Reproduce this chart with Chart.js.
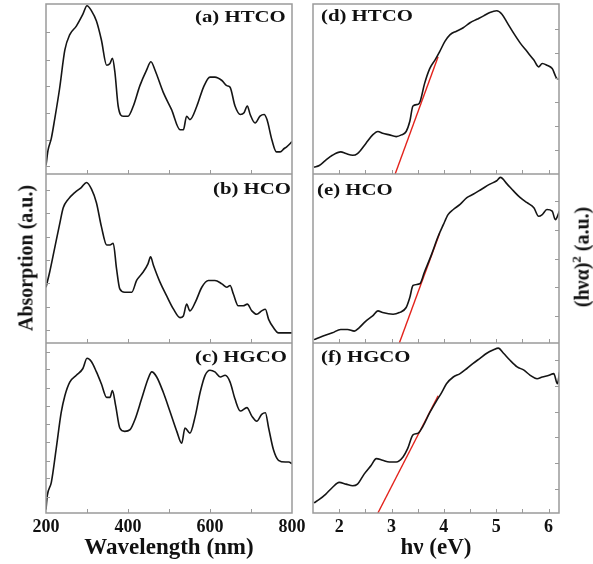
<!DOCTYPE html>
<html>
<head>
<meta charset="utf-8">
<script src="https://cdn.jsdelivr.net/npm/chart.js@4.4.1/dist/chart.umd.min.js"></script>
<style>
    body { margin: 0; background: #fff; }
    #wrap { position: relative; width: 593px; height: 564px; overflow: hidden; background: #fff; }
    canvas { position: absolute; }
    .lbl { position: absolute; font: bold 16px "Liberation Serif", serif; line-height: 16px; color: #111;
           white-space: nowrap; transform: scaleX(1.3); transform-origin: left center; }
    .ytitle { position: absolute; font: bold 20px "Liberation Serif", serif; color: #111; white-space: nowrap;
              transform: translate(-50%, -50%) rotate(-90deg); }
    .ytitle sup { font-size: 13px; }
</style>
</head>
<body>
<div id="wrap">
    <canvas id="pa" width="310" height="174" style="left:0;top:0"></canvas>
    <canvas id="pb" width="310" height="169" style="left:0;top:174px"></canvas>
    <canvas id="pc" width="310" height="221" style="left:0;top:343px"></canvas>
    <canvas id="pd" width="293" height="174" style="left:300px;top:0"></canvas>
    <canvas id="pe" width="293" height="169" style="left:300px;top:174px"></canvas>
    <canvas id="pf" width="293" height="221" style="left:300px;top:343px"></canvas>

    <div class="lbl" style="left:195px;top:9px">(a) HTCO</div>
    <div class="lbl" style="left:213px;top:181px">(b) HCO</div>
    <div class="lbl" style="left:195px;top:349px">(c) HGCO</div>
    <div class="lbl" style="left:321px;top:8px">(d) HTCO</div>
    <div class="lbl" style="left:317px;top:182px">(e) HCO</div>
    <div class="lbl" style="left:321px;top:349px">(f) HGCO</div>

    <div class="ytitle" style="left:26px;top:258px">Absorption (a.u.)</div>
    <div class="ytitle" style="left:581px;top:257px">(hνα)<sup>2</sup> (a.u.)</div>
</div>

<script>
// wavelength panels (a)-(c), absorption in a.u. (0-100 per panel)
const wlA = [200,205,213,221,233,246,258,274,290,300,311,323,335,348,356,362,368,376,388,400,413,429,445,456,466,486,506,527,535,543,551,568,584,600,612,629,641,649,661,674,683,691,698,710,722,732,739,751,762,771,781,787,800];
const absA = [5,14,21,32,50,73,82,87,94,99,96,90,79,64,65,68,60,40,34,34,40,52,61,66,61,48,38,26,26,34,32,40,51,57,57,55,52,51,40,35,36,40,35,30,34,35,32,20,13,13,15,16,19];

const wlB = [200,209,221,233,242,254,270,286,299,311,323,335,348,356,364,372,380,392,409,421,437,449,455,462,478,494,511,527,535,543,551,564,580,596,612,629,641,649,657,669,681,691,702,714,726,735,743,755,767,784,800];
const absB = [33,42,56,70,80,85,89,92,95,91,83,69,58,58,59,44,32,30,30,37,42,47,51,46,36,28,20,15,16,23,19,24,33,37,37,35,33,34,29,22,22,23,19,17,19,20,14,9,6,6,6];

const wlC = [200,203,213,225,237,246,258,274,290,300,311,323,335,348,356,362,370,380,392,405,417,433,449,458,470,486,502,519,531,539,551,564,576,588,600,612,625,637,649,661,674,690,702,714,726,735,743,755,767,784,792,800];
const absC = [2,10,18,38,59,69,77,81,85,91,89,83,76,68,68,72,63,50,48,49,55,67,79,83,80,71,60,48,41,50,47,57,71,81,84,83,80,81,77,67,60,62,57,54,58,59,50,37,31,30,30,29];

// photon energy panels (d)-(f), (hva)^2 in a.u.
const evD = [1.52,1.62,1.74,1.87,2.03,2.13,2.26,2.35,2.51,2.64,2.74,2.83,2.96,3.09,3.19,3.28,3.35,3.41,3.51,3.55,3.63,3.73,3.83,3.92,4.02,4.12,4.24,4.37,4.50,4.63,4.76,4.88,5.01,5.11,5.21,5.33,5.46,5.59,5.72,5.81,5.88,5.97,6.07,6.17,6.20];
const sqD = [4,5,8,11,13,12,11,12,18,23,25,24,23,22,23,25,31,40,41,43,53,62,67,72,78,82,84,86,89,91,93,95,96,94,89,83,77,72,67,63,65,64,62,56,56];

const evE = [1.52,1.68,1.87,2.03,2.16,2.29,2.38,2.51,2.64,2.74,2.83,3.03,3.15,3.28,3.35,3.41,3.54,3.63,3.76,3.89,3.99,4.08,4.18,4.31,4.44,4.56,4.72,4.88,5.01,5.08,5.21,5.33,5.46,5.59,5.72,5.81,5.88,5.97,6.07,6.13,6.21];
const sqE = [2,4,6,8,8,7,9,13,16,19,18,17,18,21,27,34,35,42,52,63,70,76,79,82,86,88,91,94,96,98,94,90,86,83,80,75,76,79,78,73,78];

const evF = [1.52,1.62,1.74,1.87,2.00,2.13,2.26,2.35,2.48,2.61,2.71,2.83,2.96,3.09,3.22,3.31,3.41,3.51,3.60,3.73,3.86,3.96,4.05,4.18,4.31,4.44,4.56,4.69,4.82,4.95,5.04,5.14,5.26,5.40,5.53,5.65,5.78,5.88,6.01,6.10,6.17,6.21];
const sqF = [6,8,11,15,18,17,16,17,23,28,32,31,30,30,33,38,46,47,51,59,66,71,76,80,82,85,88,91,94,96,97,94,90,86,84,81,79,80,81,82,76,83];

// linear fits (Tauc extrapolation)
const fitDx = [3.07, 3.89], fitDy = [0, 69];
const fitEx = [3.15, 3.92], fitEy = [0, 65];
const fitFx = [2.74, 3.89], fitFy = [0, 69];

// tick positions
const wlTicks = [200, 300, 400, 500, 600, 700, 800];
const evTicks = [2, 2.5, 3, 3.5, 4, 4.5, 5, 5.5, 6];
const yTicksA = [4.7, 20.1, 36.1, 51.5, 66.9, 83.4];
const yTicksB = [7.7, 21.3, 35.5, 49.1, 62.7, 76.9, 90.5];
const yTicksC = [9.4, 20.6, 30.6, 41.8, 52.4, 62.9, 73.5, 84.7, 94.7];
const yTicksD = [14.1, 28.2, 42.4, 56.5, 71.2, 85.3];
const yTicksE = [16, 33.1, 49.7, 66.9, 84];
const yTicksF = [14.1, 29.4, 44.7, 59.4, 74.7, 90];

const serif = '"Liberation Serif", "Times New Roman", serif';

function pts(xs, ys) {
    return xs.map((x, i) => ({ x: x, y: ys[i] }));
}

// grey frame and inward tick marks
const framePlugin = {
    id: 'frame',
    afterDraw(chart) {
        const { ctx, chartArea: a, scales } = chart;
        const side = chart.options.scales.y.position;
        ctx.save();
        ctx.strokeStyle = '#9a9a9a';
        ctx.lineWidth = 1.5;
        ctx.strokeRect(a.left, a.top, a.right - a.left, a.bottom - a.top);
        ctx.lineWidth = 1;
        ctx.beginPath();
        scales.x.ticks.forEach(t => {
            const px = Math.round(scales.x.getPixelForValue(t.value)) + 0.5;
            if (px <= a.left + 1 || px >= a.right - 1) return;
            ctx.moveTo(px, a.bottom);
            ctx.lineTo(px, a.bottom - 4);
        });
        scales.y.ticks.forEach(t => {
            const py = Math.round(scales.y.getPixelForValue(t.value)) + 0.5;
            if (side === 'left') {
                ctx.moveTo(a.left, py);
                ctx.lineTo(a.left + 4, py);
            } else {
                ctx.moveTo(a.right, py);
                ctx.lineTo(a.right - 4, py);
            }
        });
        ctx.stroke();
        ctx.restore();
    }
};

function makePanel(id, cfg) {
    const datasets = [{
        data: pts(cfg.xs, cfg.ys),
        borderColor: '#151515',
        borderWidth: 1.6,
        pointRadius: 0,
        cubicInterpolationMode: 'monotone'
    }];
    if (cfg.fitX) {
        datasets.push({
            data: pts(cfg.fitX, cfg.fitY),
            borderColor: '#e3231c',
            borderWidth: 1.4,
            pointRadius: 0
        });
    }
    new Chart(document.getElementById(id), {
        type: 'line',
        data: { datasets: datasets },
        plugins: [framePlugin],
        options: {
            responsive: false,
            animation: false,
            layout: { padding: cfg.padding },
            plugins: { legend: { display: false }, tooltip: { enabled: false } },
            scales: {
                x: {
                    type: 'linear',
                    min: cfg.xmin,
                    max: cfg.xmax,
                    grid: { display: false, drawTicks: false },
                    border: { display: false },
                    afterBuildTicks: s => { s.ticks = cfg.xTicks.map(v => ({ value: v })); },
                    afterFit: s => { s.height = cfg.bottom ? 51 : 0; },
                    ticks: {
                        display: !!cfg.bottom,
                        autoSkip: false,
                        maxRotation: 0,
                        padding: 4,
                        color: '#111',
                        font: { family: serif, size: 18, weight: 'bold' },
                        callback: cfg.xLabel
                    },
                    title: {
                        display: !!cfg.bottom,
                        text: cfg.xTitle,
                        color: '#111',
                        padding: { top: 0, bottom: 2 },
                        font: { family: serif, size: 23, weight: 'bold' }
                    }
                },
                y: {
                    position: cfg.side,
                    min: 0,
                    max: 100,
                    grid: { display: false, drawTicks: false },
                    border: { display: false },
                    ticks: { display: false },
                    afterBuildTicks: s => { s.ticks = cfg.yTicks.map(v => ({ value: v })); },
                    afterFit: s => { s.width = cfg.side === 'left' ? 46 : 34; }
                }
            }
        }
    });
}

const wlLabel = v => (v % 200 === 0 ? v : '');
const evLabel = v => (Number.isInteger(v) ? v : '');

const leftBase = { xmin: 200, xmax: 800, xTicks: wlTicks, xLabel: wlLabel, xTitle: 'Wavelength (nm)', side: 'left' };
const rightBase = { xmin: 1.5, xmax: 6.2, xTicks: evTicks, xLabel: evLabel, xTitle: 'hν (eV)', side: 'right' };

makePanel('pa', Object.assign({}, leftBase, { xs: wlA, ys: absA, yTicks: yTicksA, padding: { top: 4, right: 18 } }));
makePanel('pb', Object.assign({}, leftBase, { xs: wlB, ys: absB, yTicks: yTicksB, padding: { right: 18 } }));
makePanel('pc', Object.assign({}, leftBase, { xs: wlC, ys: absC, yTicks: yTicksC, padding: { right: 18 }, bottom: true }));
makePanel('pd', Object.assign({}, rightBase, { xs: evD, ys: sqD, fitX: fitDx, fitY: fitDy, yTicks: yTicksD, padding: { top: 4, left: 13 } }));
makePanel('pe', Object.assign({}, rightBase, { xs: evE, ys: sqE, fitX: fitEx, fitY: fitEy, yTicks: yTicksE, padding: { left: 13 } }));
makePanel('pf', Object.assign({}, rightBase, { xs: evF, ys: sqF, fitX: fitFx, fitY: fitFy, yTicks: yTicksF, padding: { left: 13 }, bottom: true }));
</script>
</body>
</html>
